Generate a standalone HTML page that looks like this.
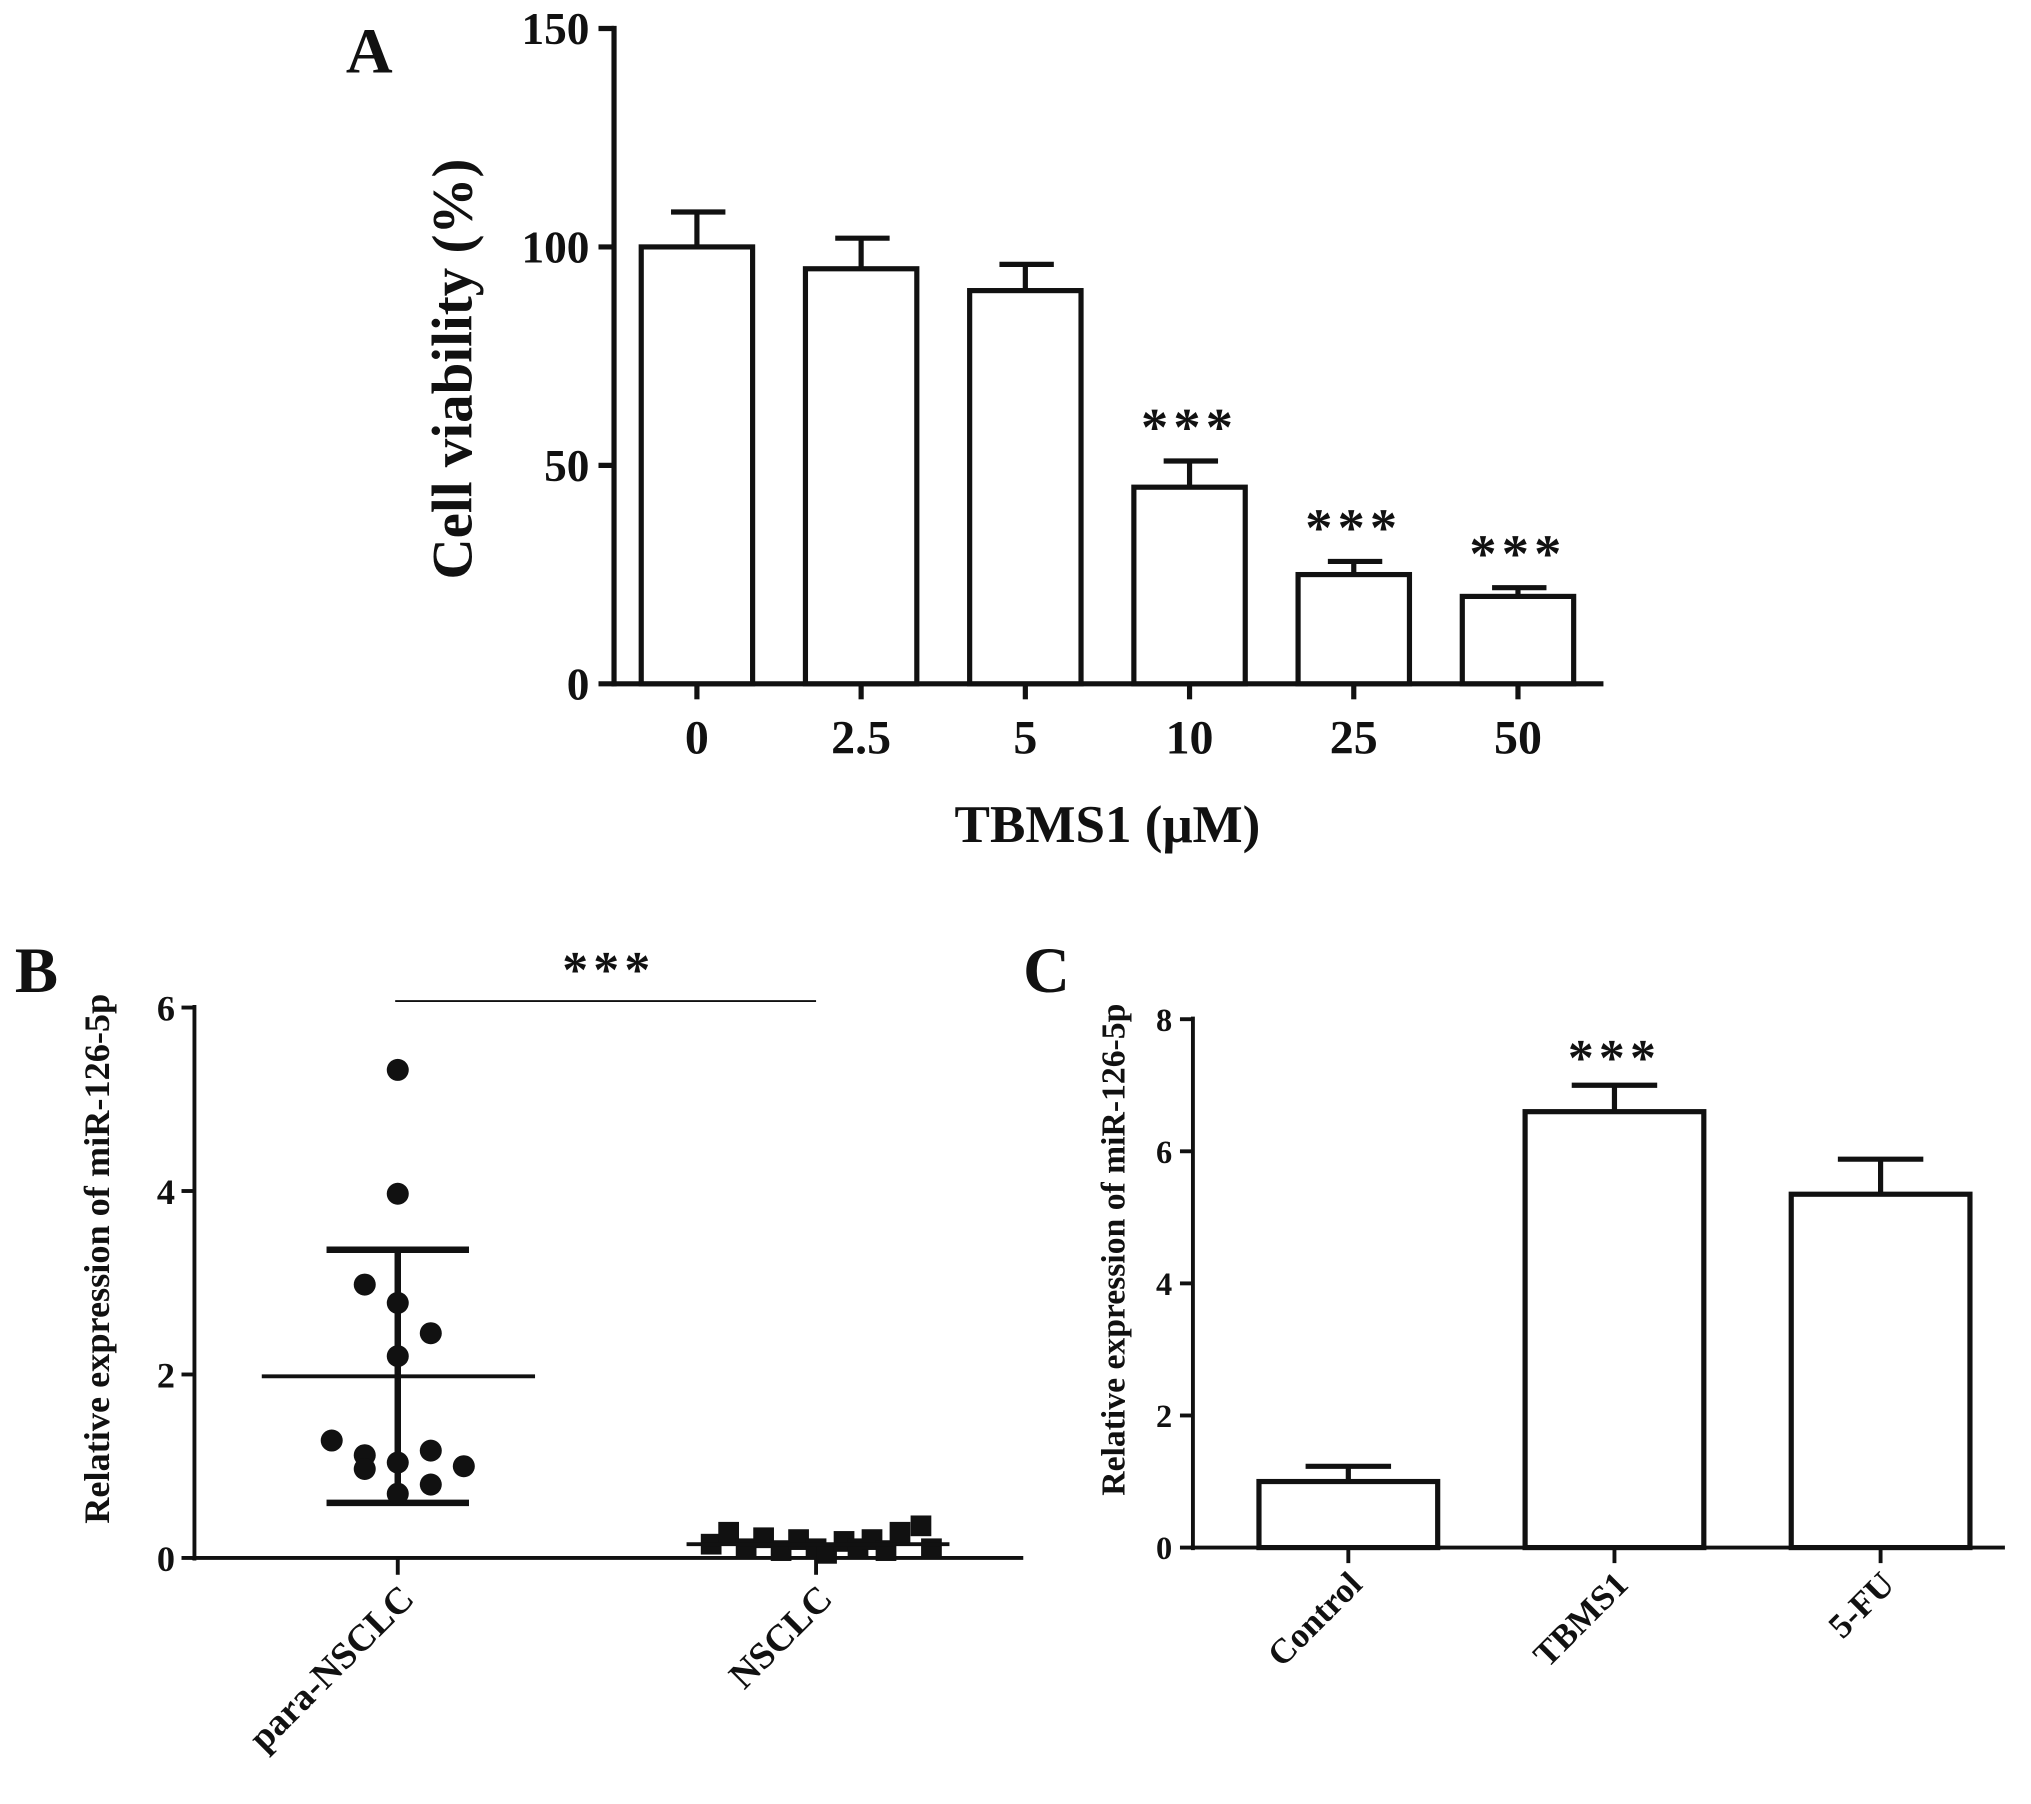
<!DOCTYPE html>
<html><head><meta charset="utf-8"><style>
html,body{margin:0;padding:0;background:#fff}
svg{display:block}
text{font-family:"Liberation Serif",serif;font-weight:bold;fill:#111}
</style></head><body>
<svg id="s" width="2031" height="1804" viewBox="0 0 1568 1393" xmlns="http://www.w3.org/2000/svg"></svg>
<script>
// Panel A data
const aCats=["0","2.5","5","10","25","50"];
const aVals=[100,95,90,45,25,20];
const aErr=[108,102,96,51,28,22];
const aSig=["","","","***","***","***"];
const aTicks=[0,50,100,150];
// Panel B data
const bCats=["para-NSCLC","NSCLC"];
const bParaVals=[5.32,3.97,2.98,2.78,2.45,2.2,1.28,1.12,1.04,1.17,1.0,0.97,0.8,0.7];
const bParaOff=[0,0,-1,0,1,0,-2,-1,0,1,2,-1,1,0];
const bNsVals=[0.15,0.28,0.1,0.22,0.08,0.2,0.1,0.05,0.18,0.1,0.2,0.08,0.28,0.35,0.1];
const bNsOff=[-3,-2.5,-2,-1.5,-1,-0.5,0,0.3,0.8,1.2,1.6,2,2.4,3,3.3];
const bMean=[1.98,0.15];
const bSdHi=[3.36,0.15];
const bSdLo=[0.6,0.15];
const bTicks=[0,2,4,6];
// Panel C data
const cCats=["Control","TBMS1","5-FU"];
const cVals=[1.0,6.6,5.35];
const cErr=[1.23,7.0,5.88];
const cSig=["","***",""];
const cTicks=[0,2,4,6,8];

const S=document.getElementById('s');
const NS="http://www.w3.org/2000/svg";
function el(t,a,txt){const e=document.createElementNS(NS,t);for(const k in a)e.setAttribute(k,a[k]);if(txt!==undefined)e.textContent=txt;S.appendChild(e);return e;}
function line(x1,y1,x2,y2,w){return el('line',{x1,y1,x2,y2,stroke:'#111','stroke-width':w||4});}

// ---- Panel A
const ay=v=>528-(v/150)*506;
const ax=i=>538+i*126.8;
let e=line(474,20,474,530,4);
e=line(472,528,1238,528,4);
aTicks.forEach(t=>{line(462,ay(t),474,ay(t),4);
 e=el('text',{x:455,y:ay(t)+12,'text-anchor':'end','font-size':35},t);
 });
aCats.forEach((c,i)=>{const x=ax(i);
 line(x,528,x,540,4);
 e=line(x,ay(aErr[i]),x,ay(aVals[i]),4);
 e=line(x-20,ay(aErr[i]),x+22,ay(aErr[i]),4);
 e=el('rect',{x:x-43,y:ay(aVals[i]),width:86,height:528-ay(aVals[i]),fill:'#fff',stroke:'#111','stroke-width':4});
 
 e=el('text',{x:x,y:582,'text-anchor':'middle','font-size':37},c);
 
 if(aSig[i]){e=el('text',{x:x,y:ay(aErr[i])-12,'text-anchor':'middle','font-size':42,'letter-spacing':4},aSig[i]);
 }
});
e=el('text',{x:855,y:650,'text-anchor':'middle','font-size':41},'TBMS1 (μM)');

e=el('text',{x:0,y:0,'text-anchor':'middle','font-size':44,transform:'translate(364,285) rotate(-90)'},'Cell viability (%)');

e=el('text',{x:285,y:56,'text-anchor':'middle','font-size':50},'A');


// ---- Panel B
const by=v=>1203-(v/6)*425;
const bx=i=>307+i*323;
e=line(150,776,150,1205,3);
e=line(148,1203,790,1203,3);
bTicks.forEach(t=>{line(140,by(t),150,by(t),3);
 e=el('text',{x:135,y:by(t)+10,'text-anchor':'end','font-size':28},t);
 });
bCats.forEach((c,i)=>{const x=bx(i);line(x,1203,x,1216,3);
 e=el('text',{x:0,y:0,'text-anchor':'end','font-size':29,transform:`translate(${x+14},1236) rotate(-45)`},c);
 });
line(bx(0),by(bSdHi[0]),bx(0),by(bSdLo[0]),5);
line(bx(0)-55,by(bSdHi[0]),bx(0)+55,by(bSdHi[0]),5);
line(bx(0)-55,by(bSdLo[0]),bx(0)+55,by(bSdLo[0]),5);
line(bx(0)-105,by(bMean[0]),bx(0)+106,by(bMean[0]),3);
bParaVals.forEach((v,i)=>{e=el('circle',{cx:bx(0)+bParaOff[i]*25.5,cy:by(v),r:8.5,fill:'#111'});
 });
bNsVals.forEach((v,i)=>{e=el('rect',{x:bx(1)+bNsOff[i]*27-8,y:by(v)-8,width:16,height:16,fill:'#111'});
 });
line(bx(1)-100,by(bMean[1]),bx(1)+103,by(bMean[1]),3);
e=line(305,773,630,773,1.5);
e=el('text',{x:470,y:762,'text-anchor':'middle','font-size':40,'letter-spacing':4},'***');

e=el('text',{x:0,y:0,'text-anchor':'middle','font-size':28,transform:'translate(84,972) rotate(-90)'},'Relative expression of miR-126-5p');

e=el('text',{x:28,y:766,'text-anchor':'middle','font-size':50},'B');


// ---- Panel C
const cy=v=>1195-(v/8)*408;
const cx=i=>1041+i*205.5;
e=line(921,785,921,1197,3);
e=line(919,1195,1548,1195,3);
cTicks.forEach(t=>{line(911,cy(t),921,cy(t),3);
 e=el('text',{x:905,y:cy(t)+9,'text-anchor':'end','font-size':25},t);
 });
cCats.forEach((c,i)=>{const x=cx(i);line(x,1195,x,1207,3);
 line(x,cy(cErr[i]),x,cy(cVals[i]),4);
 line(x-33,cy(cErr[i]),x+33,cy(cErr[i]),4);
 e=el('rect',{x:x-69,y:cy(cVals[i]),width:138,height:1195-cy(cVals[i]),fill:'#fff',stroke:'#111','stroke-width':4});
 
 e=el('text',{x:0,y:0,'text-anchor':'end','font-size':27,transform:`translate(${x+12},1225) rotate(-45)`},c);
 
 if(cSig[i]){e=el('text',{x:x,y:cy(cErr[i])-8,'text-anchor':'middle','font-size':40,'letter-spacing':4},cSig[i]);
 }
});
e=el('text',{x:0,y:0,'text-anchor':'middle','font-size':26,transform:'translate(868,965) rotate(-90)'},'Relative expression of miR-126-5p');

e=el('text',{x:808,y:766,'text-anchor':'middle','font-size':50},'C');

</script>
</body></html>
